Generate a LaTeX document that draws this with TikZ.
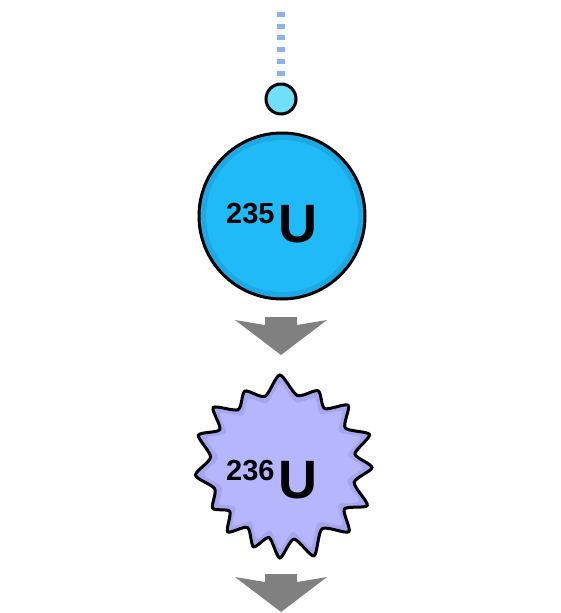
\documentclass[tikz,border=0pt]{standalone}
\usepackage{fontspec}
\setmainfont{Liberation Sans}
\definecolor{dotblue}{HTML}{8FB0F5}
\definecolor{smallcyan}{HTML}{70E0FA}
\definecolor{bigblueedge}{HTML}{1CA9E6}
\definecolor{bigblue}{HTML}{20BAF8}
\definecolor{lavedge}{HTML}{A6A6F0}
\definecolor{lav}{HTML}{B6B6FF}
\definecolor{arrowgray}{HTML}{808080}
\begin{document}
\begin{tikzpicture}[x=1pt,y=-1pt,
  outline/.style={draw=black,line width=3pt},
  bigarrow/.style={fill=arrowgray,draw=none},
  supnum/.style={inner sep=0pt,anchor=base west,font=\bfseries\fontsize{29}{29}\selectfont},
  elem/.style={inner sep=0pt,anchor=base west,font=\bfseries\fontsize{54}{54}\selectfont}]
\useasboundingbox (0,0) rectangle (561,613);
% neutron trail and neutron
\coordinate (trailtop) at (281,12);
\node[circle,minimum size=30pt,inner sep=0pt,fill=smallcyan,outline] (neutron) at (281,99) {};
\draw[dotblue,line width=8.5pt,dash pattern=on 5pt off 6.7pt] (trailtop) -- (neutron.north);
% U-235
\node[circle,minimum size=166pt,inner sep=0pt,fill=bigblueedge,outline] (u235) at (282,216) {};
\fill[bigblue] (u235.center) circle (76);
\node[supnum] (n235) at (226,223) {235};
\node[elem] (s235) at (278,242) {U};
% arrow 1
\path[bigarrow] (265,317) -- (297,317) -- (297,325) -- (327,320) -- (281,355) -- (235,320) -- (265,325) -- cycle;
% U-236 starburst
\begin{scope}[shift={(283,466)}]
\coordinate (u236) at (0,0);
\filldraw[fill=lavedge,outline] plot[smooth cycle,tension=0.45] coordinates {
 (268:91) (281.5:72) (295:83) (306:71) (317:89) (328.5:73) (340:92) (350.5:73)
 (1:89) (13:73) (25:93) (35:75) (45:93) (58:74) (71:95) (81.5:74)
 (92:92) (101:73) (110:86) (120:71) (130:86) (139.5:70) (149:82) (161.5:72)
 (174:88) (187:73) (200:90) (210:73) (220:91) (231.5:72) (243:84) (255.5:72)};
\begin{scope}[scale=0.9]
\fill[lav] plot[smooth cycle,tension=0.45] coordinates {
 (268:91) (281.5:72) (295:83) (306:71) (317:89) (328.5:73) (340:92) (350.5:73)
 (1:89) (13:73) (25:93) (35:75) (45:93) (58:74) (71:95) (81.5:74)
 (92:92) (101:73) (110:86) (120:71) (130:86) (139.5:70) (149:82) (161.5:72)
 (174:88) (187:73) (200:90) (210:73) (220:91) (231.5:72) (243:84) (255.5:72)};
\end{scope}
\end{scope}
\node[supnum] (n236) at (226,480) {236};
\node[elem] (s236) at (278,498) {U};
% arrow 2
\path[bigarrow] (265,574) -- (297,574) -- (297,582) -- (327,577) -- (281,612) -- (235,577) -- (265,582) -- cycle;
\end{tikzpicture}
\end{document}
